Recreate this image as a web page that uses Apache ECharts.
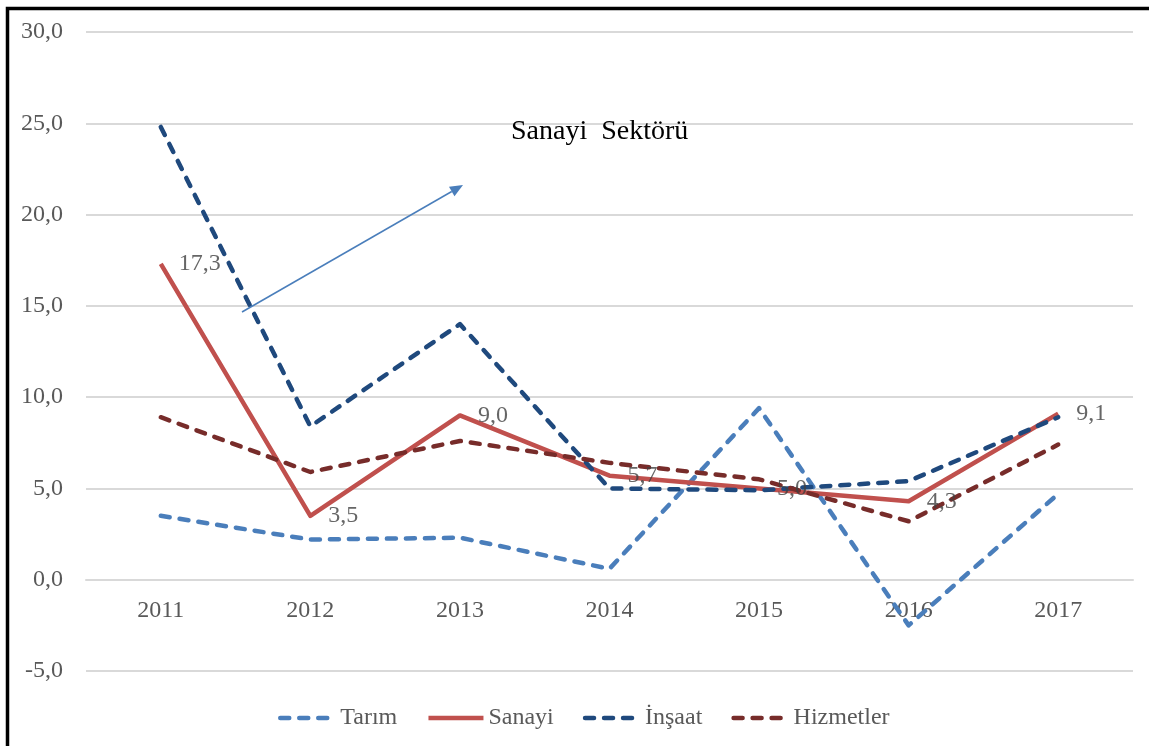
<!DOCTYPE html>
<html>
<head>
<meta charset="utf-8">
<script src="https://cdn.jsdelivr.net/npm/echarts@6/dist/echarts.min.js"></script>
<style>
html,body{margin:0;padding:0;background:#fff;}
#chart{width:1149px;height:746px;}
</style>
</head>
<body>
<div id="chart"></div>
<script>
var years = ['2011', '2012', '2013', '2014', '2015', '2016', '2017'];
var tarim = [3.5, 2.2, 2.3, 0.6, 9.4, -2.5, 4.7];
var sanayi = [17.3, 3.5, 9.0, 5.7, 5.0, 4.3, 9.1];
var insaat = [24.8, 8.4, 14.0, 5.0, 4.9, 5.4, 8.9];
var hizmetler = [8.9, 5.9, 7.6, 6.4, 5.5, 3.2, 7.4];
var seriesNames = ['Tarım', 'Sanayi', 'İnşaat', 'Hizmetler'];
var annotationText = 'Sanayi  Sektörü';

var FONT = '"Liberation Serif", "Times New Roman", serif';
function fmt(v) { return Number(v).toFixed(1).replace('.', ','); }

var chart = echarts.init(document.getElementById('chart'), null, {renderer: 'canvas'});

function lineSeries(name, data, color, dashed) {
  return {
    name: name,
    type: 'line',
    data: data,
    symbol: 'none',
    smooth: false,
    z: 3,
    lineStyle: {
      color: color,
      width: 4.5,
      type: dashed ? [9, 10] : 'solid',
      cap: dashed ? 'round' : 'butt',
      join: 'round'
    },
    itemStyle: { color: color }
  };
}

// arrow geometry (annotation)
var ax0 = 242, ay0 = 312, ax1 = 463, ay1 = 185;
var ang = Math.atan2(ay1 - ay0, ax1 - ax0);
var hl = 13, hw = 5.5;
var bx = ax1 - hl * Math.cos(ang), by = ay1 - hl * Math.sin(ang);
var px = -Math.sin(ang) * hw, py = Math.cos(ang) * hw;

var option = {
  animation: false,
  backgroundColor: '#ffffff',
  grid: { left: 86, right: 16, top: 32, bottom: 75, containLabel: false },
  legend: {
    data: seriesNames,
    left: 273,
    top: 701,
    itemWidth: 55,
    itemHeight: 14,
    itemGap: 29,
    itemStyle: { opacity: 0 },
    lineStyle: { width: 4.5 },
    textStyle: { fontFamily: FONT, fontSize: 24, color: '#595959' }
  },
  xAxis: {
    type: 'category',
    data: years,
    boundaryGap: true,
    offset: -91.3,
    axisLine: { show: true, onZero: false, lineStyle: { color: '#D9D9D9', width: 2 } },
    axisTick: { show: false },
    axisLabel: { fontFamily: FONT, fontSize: 24, color: '#595959', margin: 19 },
    splitLine: { show: false }
  },
  yAxis: {
    type: 'value',
    min: -5,
    max: 30,
    interval: 5,
    axisLine: { show: false },
    axisTick: { show: false },
    axisLabel: {
      fontFamily: FONT, fontSize: 24, color: '#595959', margin: 23,
      padding: [4, 0, 0, 0],
      formatter: function (v) { return fmt(v); }
    },
    splitLine: { show: true, lineStyle: { color: '#D9D9D9', width: 2 } }
  },
  series: [
    lineSeries(seriesNames[0], tarim, '#4A7EBB', true),
    lineSeries(seriesNames[1], sanayi, '#C0504D', false),
    lineSeries(seriesNames[2], insaat, '#1F497D', true),
    lineSeries(seriesNames[3], hizmetler, '#772C2A', true),
    {
      name: 'SanayiLabels',
      type: 'scatter',
      data: sanayi,
      symbolSize: 0,
      z: 4,
      silent: true,
      label: {
        show: true,
        position: 'right',
        distance: 18,
        fontFamily: FONT,
        fontSize: 24,
        color: '#404040',
        formatter: function (p) { return fmt(p.value); }
      }
    }
  ],
  graphic: [
    {
      type: 'rect',
      shape: { x: 7.5, y: 8.5, width: 1200, height: 800 },
      style: { fill: 'none', stroke: '#000000', lineWidth: 3.5 },
      z: 10, silent: true
    },
    {
      type: 'text',
      left: 511,
      top: 118,
      style: { text: annotationText, fontFamily: FONT, fontSize: 28, fill: '#000000' },
      z: 10
    },
    {
      type: 'line',
      shape: { x1: ax0, y1: ay0, x2: bx, y2: by },
      style: { stroke: '#4A7EBB', lineWidth: 1.5 },
      z: 10
    },
    {
      type: 'polygon',
      shape: { points: [[ax1, ay1], [bx + px, by + py], [bx - px, by - py]] },
      style: { fill: '#4A7EBB' },
      z: 10
    }
  ]
};
chart.setOption(option);
</script>
</body>
</html>
